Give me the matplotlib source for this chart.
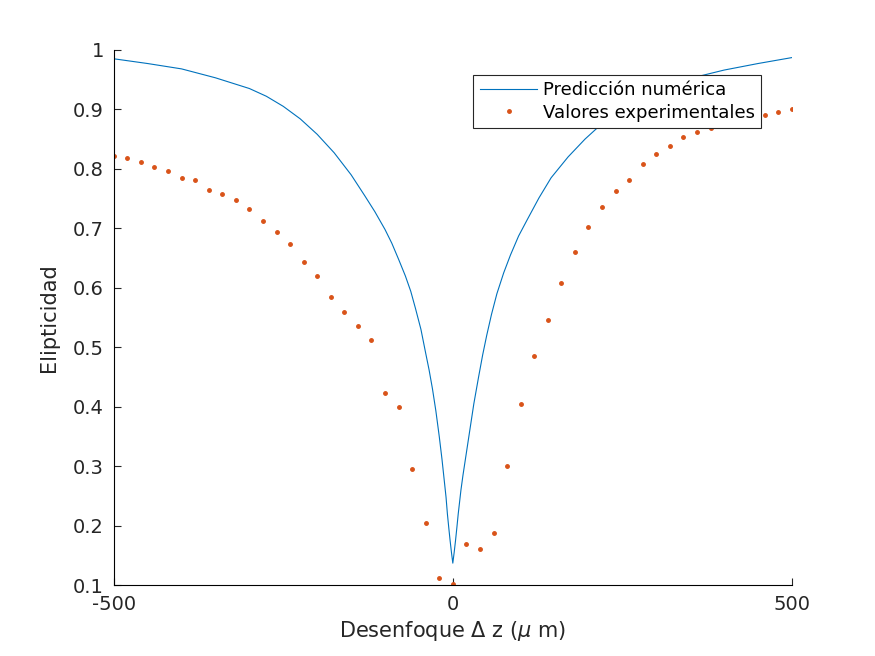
import matplotlib
matplotlib.use("Agg")
import matplotlib.pyplot as plt
import numpy as np

exp_x = list(range(-500, 501, 20))
exp_y = [0.822, 0.818, 0.812, 0.803, 0.797, 0.785, 0.782, 0.765, 0.758, 0.748,
         0.733, 0.713, 0.693, 0.673, 0.643, 0.620, 0.584, 0.560, 0.535, 0.513,
         0.423, 0.400, 0.295, 0.205, 0.112, 0.102, 0.170, 0.160, 0.187, 0.300,
         0.405, 0.486, 0.546, 0.608, 0.660, 0.702, 0.736, 0.762, 0.782, 0.808,
         0.825, 0.838, 0.853, 0.862, 0.869, 0.876, 0.882, 0.887, 0.891, 0.895, 0.900]

num_x = [-500, -450, -400, -350, -300, -275, -250, -225, -200, -175, -150, -130, -115, -100, -90,
         -80, -70, -62, -55, -47, -40, -35, -30, -25, -20, -16, -13, -10, -8, -6, -4, -2, 0,
         2, 4, 6, 8, 10, 12, 15, 17, 21, 25, 31, 38, 44, 50, 57, 65, 75, 85, 97, 110, 127, 145,
         170, 195, 220, 245, 270, 295, 320, 350, 400, 450, 500]
num_y = [0.985, 0.977, 0.968, 0.953, 0.935, 0.922, 0.905, 0.884, 0.858, 0.827, 0.79, 0.755,
         0.728, 0.698, 0.675, 0.648, 0.62, 0.594, 0.565, 0.53, 0.49, 0.462, 0.43, 0.393, 0.35,
         0.312, 0.28, 0.248, 0.22, 0.197, 0.175, 0.155, 0.137,
         0.155, 0.175, 0.197, 0.22, 0.24, 0.26, 0.285, 0.30, 0.33, 0.36, 0.405, 0.45, 0.487,
         0.52, 0.555, 0.59, 0.625, 0.655, 0.687, 0.715, 0.751, 0.785, 0.82, 0.85, 0.876,
         0.898, 0.915, 0.93, 0.941, 0.952, 0.966, 0.977, 0.987]

fig = plt.figure(figsize=(8.75, 6.56), dpi=100)
ax = fig.add_axes([0.130, 0.108, 0.775, 0.816])
ax.plot(num_x, num_y, color='#0072BD', lw=0.8, label='Predicción numérica')
ax.plot(exp_x, exp_y, linestyle='none', marker='o', ms=2.5, color='#D95319',
        label='Valores experimentales')
ax.set_xlim(-500, 500)
ax.set_ylim(0.1, 1)
ax.set_xticks([-500, 0, 500])
ax.set_xticklabels(['-500', '0', '500'])
ax.set_yticks(np.round(np.arange(0.1, 1.01, 0.1), 1))
ax.set_yticklabels(['0.1', '0.2', '0.3', '0.4', '0.5', '0.6', '0.7', '0.8', '0.9', '1'])
for s in ['top', 'right']:
    ax.spines[s].set_visible(False)
ax.tick_params(direction='in', labelsize=14, colors='#262626', length=5, pad=7)
ax.set_xlabel(r'Desenfoque $\Delta$ z ($\mu$ m)', fontsize=15, color='#262626', labelpad=4)
ax.set_ylabel('Elipticidad', fontsize=15, color='#262626', labelpad=10)
leg = ax.legend(loc='upper right', bbox_to_anchor=(0.968, 0.97), fontsize=13,
                fancybox=False, framealpha=1, edgecolor='#262626',
                borderpad=0.35, handlelength=3.2, labelspacing=0.25, handletextpad=0.3)
leg.get_frame().set_linewidth(0.8)
fig.savefig('out.png', dpi=100)
